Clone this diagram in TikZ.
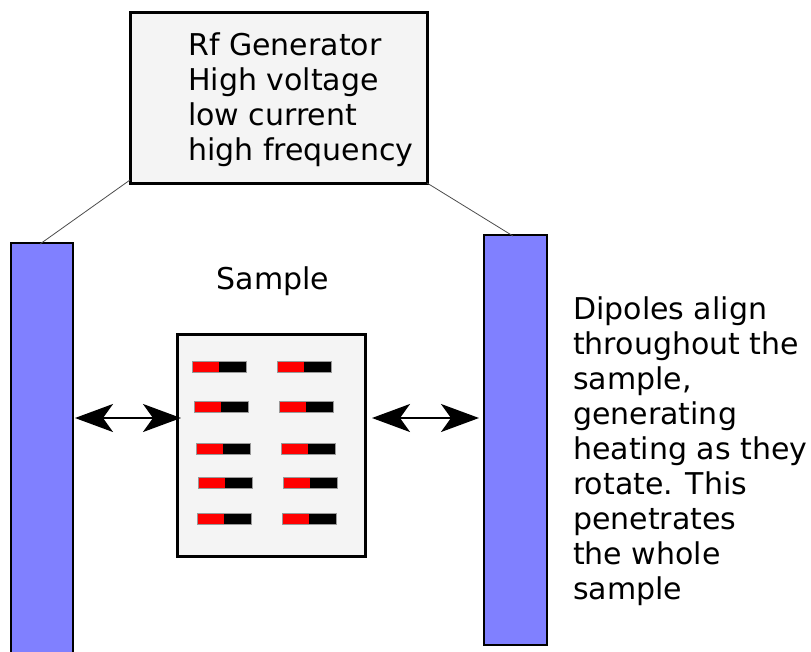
\documentclass[tikz,border=0pt]{standalone}
\usepackage{fontspec}
\setmainfont{DejaVu Sans}
\usetikzlibrary{arrows.meta}
\definecolor{barblue}{HTML}{8080FF}
\definecolor{boxgray}{HTML}{F4F4F4}
\tikzset{
  x=1pt,y=-1pt,
  bar/.style={draw=black,line width=2pt,fill=barblue},
  panel/.style={draw=black,line width=3pt,fill=boxgray},
  wire/.style={draw=black!70,line width=0.8pt},
  dbl/.style={line width=2.2pt,{Stealth[length=38pt,width=28pt,inset=10pt]}-{Stealth[length=38pt,width=28pt,inset=10pt]}},
  txt/.style={font=\fontsize{30}{35}\selectfont,align=left,inner sep=0pt},
}
\newcommand{\dipole}[2]{%
  \fill[red] (#1,#2) rectangle ++(27,11);
  \fill[black] (#1+27,#2) rectangle ++(27,11);
  \draw[black!40,line width=0.4pt] (#1,#2) rectangle ++(54,11);}
\begin{document}
\begin{tikzpicture}
\useasboundingbox (0,0) rectangle (811,651);
% generator
\draw[panel] (130,12) rectangle (427,183);
\coordinate (gl) at (130,180);
\coordinate (gr) at (427,183);
\node[txt,anchor=north west] (gen) at (188,33) {Rf Generator\\High voltage\\low current\\high frequency};
% bars
\draw[bar] (11,243) rectangle (73,660);
\draw[bar] (484,235) rectangle (547,645);
\coordinate (lb) at (40,244);
\coordinate (rb) at (513,236);
\draw[wire] (gl) -- (lb);
\draw[wire] (gr) -- (rb);
% sample
\node[txt,anchor=base] (slabel) at (273,289) {Sample};
\draw[panel] (177,334) rectangle (365,556);
\dipole{192}{361}\dipole{277}{361}
\dipole{194}{401}\dipole{279}{401}
\dipole{196}{443}\dipole{281}{443}
\dipole{198}{477}\dipole{283}{477}
\dipole{197}{513}\dipole{282}{513}
% arrows
\coordinate (a1) at (75,418);
\coordinate (a2) at (181,418);
\coordinate (a3) at (372,418);
\coordinate (a4) at (479,418);
\draw[dbl] (a1) -- (a2);
\draw[dbl] (a3) -- (a4);
% description
\node[txt,anchor=north west] (desc) at (573,296) {Dipoles align\\throughout the\\sample,\\generating\\heating as they\\rotate. This\\penetrates\\the whole\\sample};
\end{tikzpicture}
\end{document}
